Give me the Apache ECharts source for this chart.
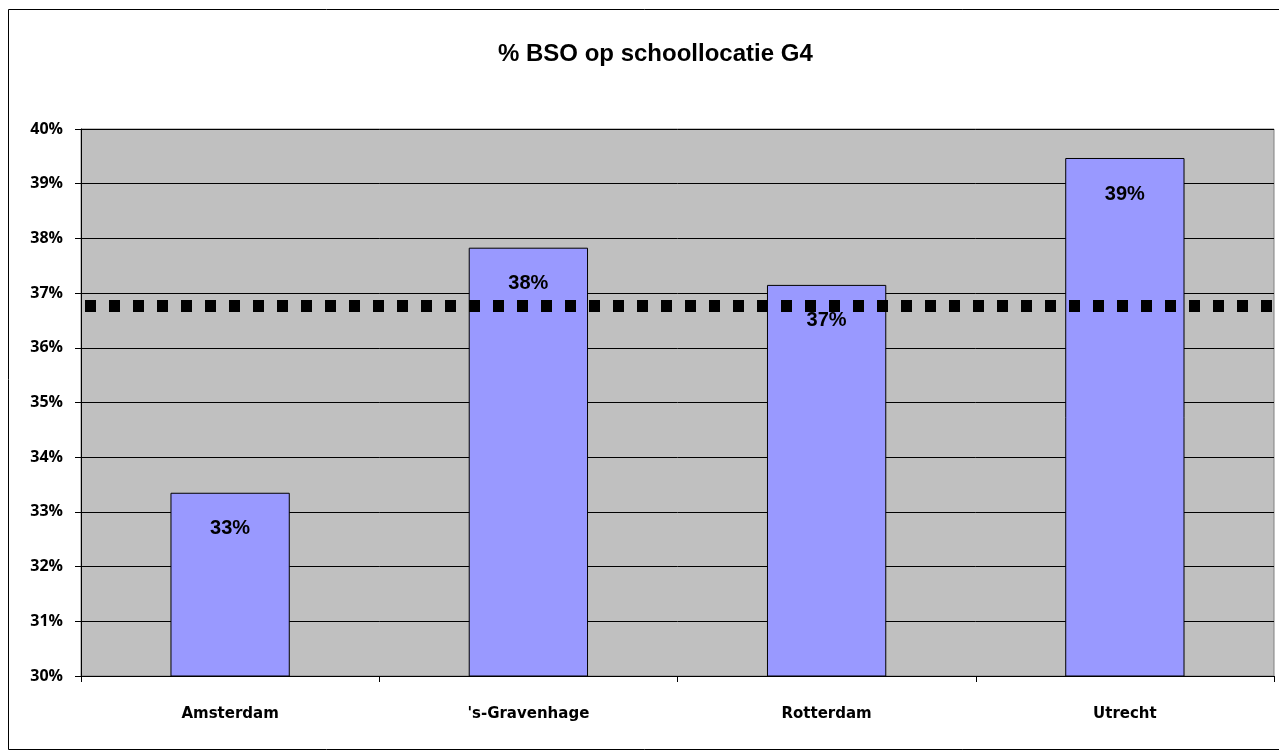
<!DOCTYPE html>
<html>
<head>
<meta charset="utf-8">
<script src="https://cdn.jsdelivr.net/npm/echarts@6/dist/echarts.min.js"></script>
<style>
  html, body { margin: 0; padding: 0; background: #fff; }
  #chart { width: 1279px; height: 752px; }
</style>
</head>
<body>
<div id="chart"></div>
<script>
    const cities = ['Amsterdam', "'s-Gravenhage", 'Rotterdam', 'Utrecht'];
    const bsoShare = [33.35, 37.83, 37.15, 39.47];
    const average = 36.76;

    const myChart = echarts.init(document.getElementById('chart'));

    myChart.setOption({
        animation: false,
        backgroundColor: '#fff',
        title: {
            text: '% BSO op schoollocatie G4',
            left: 493,
            top: 37,
            textStyle: {
                fontFamily: 'Liberation Sans, Arial',
                fontSize: 24,
                fontWeight: 'bold',
                color: '#000'
            }
        },
        graphic: [
            {
                type: 'rect',
                shape: { x: 8.5, y: 9.5, width: 1280, height: 740 },
                style: { fill: 'none', stroke: '#000', lineWidth: 1 },
                z: 100
            }
        ],
        grid: {
            left: 81,
            right: 5,
            top: 129,
            bottom: 76,
            show: true,
            backgroundColor: '#c0c0c0',
            borderColor: '#808080',
            borderWidth: 1
        },
        xAxis: {
            type: 'category',
            data: cities,
            axisLine: { lineStyle: { color: '#000' } },
            axisTick: { show: true, alignWithLabel: false, length: 6, lineStyle: { color: '#000' } },
            axisLabel: {
                margin: 31,
                fontFamily: 'DejaVu Sans',
                fontWeight: 'bold',
                fontSize: 15,
                color: '#000'
            }
        },
        yAxis: {
            type: 'value',
            min: 30,
            max: 40,
            interval: 1,
            axisLine: { show: true, lineStyle: { color: '#000' } },
            axisTick: { show: true, length: 6, lineStyle: { color: '#000' } },
            splitLine: { lineStyle: { color: '#000', width: 1 } },
            axisLabel: {
                margin: 18,
                fontFamily: 'Open Sans',
                fontWeight: 'bold',
                fontSize: 16,
                color: '#000',
                formatter: '{value}%'
            }
        },
        series: [
            {
                type: 'bar',
                data: bsoShare,
                barWidth: '40%',
                itemStyle: {
                    color: '#9999ff',
                    borderColor: '#000',
                    borderWidth: 1
                },
                label: {
                    show: true,
                    position: 'insideTop',
                    distance: 26,
                    fontFamily: 'Liberation Sans, Arial',
                    fontWeight: 'bold',
                    fontSize: 20,
                    color: '#000',
                    formatter: p => Math.round(p.value) + '%'
                },
                markLine: {
                    silent: true,
                    symbol: 'none',
                    label: { show: false },
                    lineStyle: {
                        color: '#000',
                        width: 12,
                        type: [11, 13],
                        dashOffset: -4
                    },
                    data: [{ yAxis: average }]
                }
            }
        ]
    });
</script>
</body>
</html>
